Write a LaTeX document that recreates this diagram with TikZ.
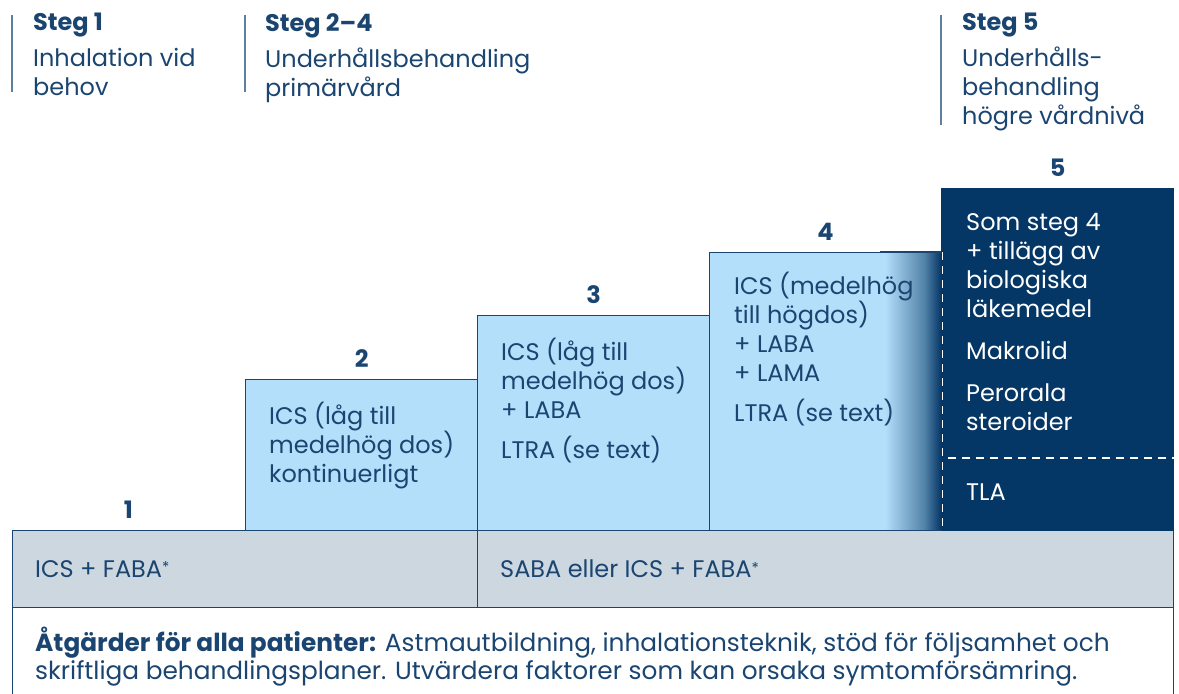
\documentclass[tikz,border=0pt]{standalone}
\usepackage{fontspec}
\setmainfont{Poppins}
\usetikzlibrary{positioning}
\definecolor{navy}{HTML}{053766}
\definecolor{ink}{HTML}{1B4571}
\definecolor{sky}{HTML}{B3DFFB}
\definecolor{band}{HTML}{CDD7E0}
\definecolor{stem}{HTML}{5F7F9E}
\newcommand{\fnmark}{\raisebox{0.35ex}{\fontsize{15}{15}\selectfont*}}
\begin{document}
\begin{tikzpicture}[x=1pt,y=-1pt,
    every node/.style={inner sep=0pt, text=ink, font=\fontsize{24}{29}\selectfont},
    txt/.style={align=left, anchor=north west},
    stepbox/.style={draw=ink, line width=1.2pt, fill=sky, anchor=north west, minimum width=232pt},
    num/.style={font=\fontsize{24}{29}\selectfont\bfseries},
    cut/.style={draw=white, line width=1.3pt, dash pattern=on 8pt off 6pt}]
    \useasboundingbox (0,0) rectangle (1179,694);
    % header
    \draw[stem, line width=1.5pt] (12,15) -- (12,92);
    \draw[stem, line width=1.5pt] (245,15) -- (245,92);
    \draw[stem, line width=1.5pt] (941,15) -- (941,125);
    \node[txt] (h1) at (33,13) {\textbf{Steg 1}\\[7pt]Inhalation vid\\behov};
    \node[txt] (h2) at (265,13) {\textbf{Steg 2–4}\\[7pt]Underhållsbehandling\\primärvård};
    \node[txt] (h5) at (962,13) {\textbf{Steg 5}\\[7pt]Underhålls-\\behandling\\högre vårdnivå};
    % footer and band
    \node[draw=ink, line width=1.2pt, anchor=north west, minimum width=1161pt, minimum height=120pt] (foot) at (12,607) {};
    \node[draw=ink, line width=1.2pt, fill=band, anchor=north west, minimum width=465pt, minimum height=77pt] (b1) at (12,530) {};
    \node[draw=ink, line width=1.2pt, fill=band, anchor=north west, minimum width=696pt, minimum height=77pt] (b2) at (477,530) {};
    \coordinate (s1) at (128.5,530);
    \node[anchor=west, right=23pt of b1.west] (t1) {ICS + FABA\fnmark};
    \node[anchor=west, right=23pt of b2.west] (t2) {SABA eller ICS + FABA\fnmark};
    \node[txt, font=\fontsize{24.8}{28}\selectfont, below right=20pt and 23pt of foot.north west] (tf)
      {\textbf{Åtgärder för alla patienter:} Astmautbildning, inhalationsteknik, stöd för följsamhet och\\skriftliga behandlingsplaner. Utvärdera faktorer som kan orsaka symtomförsämring.};
    % steps
    \node[stepbox, minimum height=151pt] (s2) at (245,379) {};
    \node[stepbox, minimum height=215pt] (s3) at (477,315) {};
    \node[stepbox, minimum height=278pt] (s4) at (709,252) {};
    \shade[left color=sky, right color=sky!45!navy] (885,252.6) rectangle (924,529.4);
    \shade[left color=sky!45!navy, right color=navy] (924,252.6) rectangle (941,529.4);
    \draw[ink, line width=1.2pt] (880,252) -- (s4.north east);
    \node[stepbox, draw=navy, fill=navy, minimum height=342pt] (s5) at (941,188) {};
    \draw[cut] (s4.north east) -- (s4.south east);
    \coordinate (gap) at (941,458);
    \draw[cut] (948,458) -- (s5.east |- gap);
    % numbers
    \node[num, above=11pt of s1] (n1) {1};
    \node[num, above=11pt of s2.north] (n2) {2};
    \node[num, above=11pt of s3.north] (n3) {3};
    \node[num, above=11pt of s4.north] (n4) {4};
    \node[num, above=11pt of s5.north] (n5) {5};
    % texts
    \node[txt, below right=23pt and 24pt of s2.north west] (x2) {ICS (låg till\\medelhög dos)\\kontinuerligt};
    \node[txt, below right=23pt and 24pt of s3.north west] (x3) {ICS (låg till\\medelhög dos)\\+ LABA\\[11pt]LTRA (se text)};
    \node[txt, below right=20pt and 25pt of s4.north west] (x4) {ICS (medelhög\\till högdos)\\+ LABA\\+ LAMA\\[11pt]LTRA (se text)};
    \node[txt, text=white, below right=25pt and 25pt of s5.north west] (x5) {Som steg 4\\+ tillägg av\\biologiska\\läkemedel\\[13pt]Makrolid\\[13pt]Perorala\\steroider};
    \node[txt, text=white, below right=26pt and 25pt of gap] (x6) {TLA};
\end{tikzpicture}
\end{document}
